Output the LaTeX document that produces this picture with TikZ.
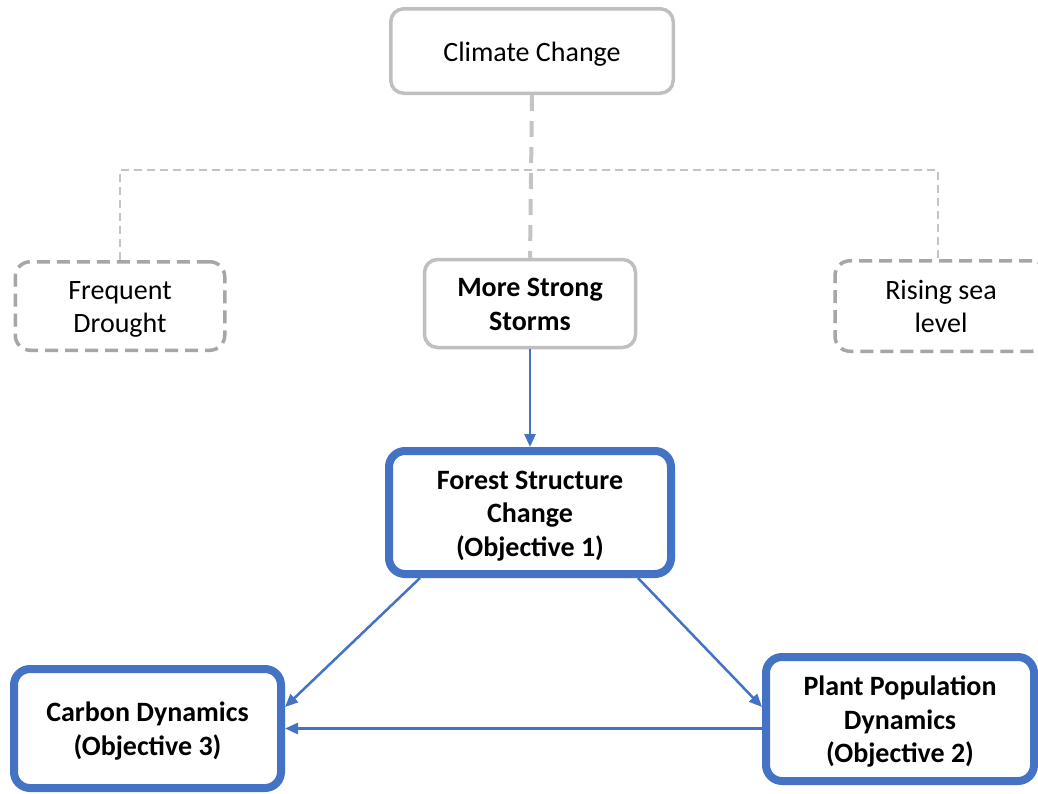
\documentclass[tikz,border=0pt]{standalone}
\usepackage{fontspec}
\setmainfont{Carlito}
\usetikzlibrary{arrows.meta}
\definecolor{boxgray}{HTML}{BFBFBF}
\definecolor{dashgray}{HTML}{A6A6A6}
\definecolor{linegray}{HTML}{C4C4C4}
\definecolor{objblue}{HTML}{4472C4}
\newcommand{\lnstrut}{\rule[-6pt]{0pt}{32pt}}
\tikzset{
  txt/.style={align=center, font=\fontsize{28}{33.5}\selectfont, text=black, inner sep=0pt, fill=white},
  graybox/.style={txt, draw=boxgray, line width=3.5pt, rounded corners=13pt},
  dashbox/.style={txt, draw=dashgray, line width=3.5pt, rounded corners=15pt, dash pattern=on 13pt off 7pt},
  bluebox/.style={txt, draw=objblue, line width=8pt, rounded corners=16pt, font=\fontsize{28}{33.5}\selectfont\bfseries},
  treeline/.style={draw=linegray, line width=2pt, dash pattern=on 8pt off 5pt},
  trunkline/.style={draw=linegray, line width=4pt, dash pattern=on 16pt off 10pt},
  bluearrow/.style={draw=objblue, line width=2.5pt, -{Triangle[length=13pt,width=11pt]}},
}
\begin{document}
\begin{tikzpicture}[x=1pt,y=-1pt]
\useasboundingbox[fill=white] (0,0) rectangle (1038,793);
\coordinate (j) at (532,170);
\node[graybox, minimum width=282.5pt, minimum height=84.5pt] (cc) at (532,51) {\lnstrut Climate Change};
\node[dashbox, minimum width=209.5pt, minimum height=88.5pt] (fd) at (120,306) {\lnstrut Frequent\\\lnstrut Drought};
\node[graybox, font=\fontsize{28}{33.5}\selectfont\bfseries, minimum width=211pt, minimum height=88pt] (ms) at (530,303.5) {\lnstrut More Strong\\\lnstrut Storms};
\node[dashbox, minimum width=212pt, minimum height=90.5pt] (rs) at (941,306) {\lnstrut Rising sea\\\lnstrut level};
\node[bluebox, minimum width=282pt, minimum height=123pt] (fs) at (530,512.5) {\lnstrut Forest Structure\\\lnstrut Change\\\lnstrut (Objective 1)};
\node[bluebox, minimum width=267pt, minimum height=119pt] (cd) at (147.5,728.5) {\lnstrut Carbon Dynamics\\\lnstrut (Objective 3)};
\node[bluebox, minimum width=268pt, minimum height=124pt] (pp) at (900,719) {\lnstrut Plant Population\\\lnstrut Dynamics\\\lnstrut (Objective 2)};
\draw[treeline] (fd.north) |- (j) -| ([xshift=-3pt]rs.north);
\draw[trunkline] (cc.south) -- (ms.north);
\draw[bluearrow] (ms.south) -- (fs.north);
\draw[bluearrow] ([xshift=-110pt]fs.south) -- ([yshift=21.5pt]cd.east);
\draw[bluearrow] ([xshift=108pt]fs.south) -- ([yshift=12pt]pp.west);
\draw[bluearrow] (cd.east -| pp.west) -- (cd.east);
\end{tikzpicture}
\end{document}
